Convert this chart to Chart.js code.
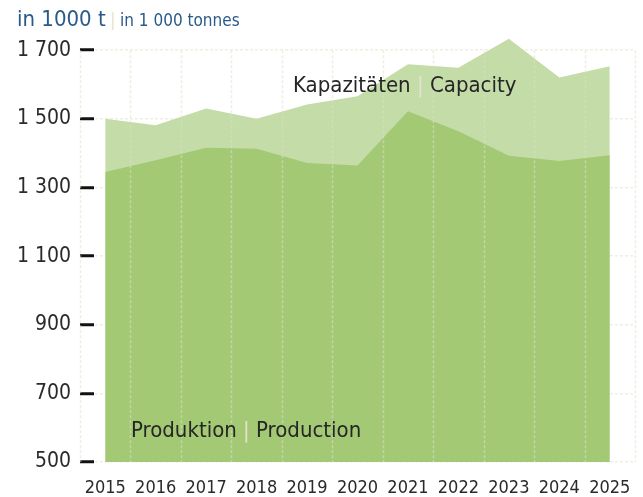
<!DOCTYPE html>
<html>
<head>
<meta charset="utf-8">
<script src="https://cdn.jsdelivr.net/npm/chart.js@4/dist/chart.umd.min.js"></script>
<style>
  html, body { margin: 0; padding: 0; background: #fff; }
  #wrap { position: relative; width: 643px; height: 497px; overflow: hidden;
          font-family: "DejaVu Sans Condensed", sans-serif; }
  canvas { position: absolute; left: 0; top: 0; }
  .sep { color: #e6e2cf; }
  #title { position: absolute; left: 17px; top: 6px; color: #2a5a8a; white-space: nowrap; }
  #title .big { font-size: 22px; }
  #title .small { font-size: 17px; }
  .note { position: absolute; font-size: 22px; color: #262626; white-space: nowrap; }
  #capNote { left: 293px; top: 72px; }
  #prodNote { left: 131px; top: 417px; }
</style>
</head>
<body>
<div id="wrap">
  <canvas id="chart" width="643" height="497"></canvas>
  <div id="title"><span class="big">in 1000 t</span> <span class="sep small">|</span> <span class="small">in 1 000 tonnes</span></div>
  <div class="note" id="capNote">Kapazitäten <span class="sep">|</span> Capacity</div>
  <div class="note" id="prodNote">Produktion <span class="sep">|</span> Production</div>
</div>
<script>
// ---------- DATA ----------
const years      = ["2015", "2016", "2017", "2018", "2019", "2020", "2021", "2022", "2023", "2024", "2025"];
const capacity   = [1500, 1481, 1530, 1500, 1542, 1566, 1659, 1649, 1733, 1620, 1653];
const production = [1345, 1379, 1416, 1413, 1371, 1364, 1522, 1464, 1392, 1377, 1394];
const yTicks     = [500, 700, 900, 1100, 1300, 1500, 1700];

const FONT = "'DejaVu Sans Condensed', sans-serif";
const GRID = "rgba(222, 226, 200, 0.55)";

function fmt(v) {
  const s = String(v);
  return s.length > 3 ? s.slice(0, -3) + " " + s.slice(-3) : s;
}

// vertical dashed lines between the categories, from the top tick down
const xGrid = {
  id: "xGrid",
  afterDatasetsDraw(chart) {
    const { ctx, scales: { x, y } } = chart;
    const top = y.getPixelForValue(yTicks[yTicks.length - 1]);
    const bottom = y.getPixelForValue(yTicks[0]);
    ctx.save();
    ctx.strokeStyle = GRID;
    ctx.lineWidth = 1.5;
    ctx.setLineDash([3, 2]);
    for (let i = 0; i <= years.length; i++) {
      const px = Math.round(x.getPixelForValue(i - 0.5)) + 0.5;
      ctx.beginPath();
      ctx.moveTo(px, top);
      ctx.lineTo(px, bottom);
      ctx.stroke();
    }
    ctx.restore();
  }
};

new Chart(document.getElementById("chart").getContext("2d"), {
  type: "line",
  data: {
    labels: years,
    datasets: [
      { label: "Produktion | Production", data: production, fill: "start",
        backgroundColor: "#a3c975", borderWidth: 0, pointRadius: 0, tension: 0 },
      { label: "Kapazitäten | Capacity", data: capacity, fill: "start",
        backgroundColor: "#c4dca7", borderWidth: 0, pointRadius: 0, tension: 0 }
    ]
  },
  options: {
    responsive: false,
    animation: false,
    devicePixelRatio: 1,
    layout: { padding: { top: 33, right: 8, left: 0, bottom: 0 } },
    plugins: { legend: { display: false }, tooltip: { enabled: false } },
    scales: {
      x: {
        offset: true,
        grid: { display: false, drawTicks: false },
        border: { display: false },
        ticks: { color: "#2a2a2a", padding: 16, maxRotation: 0, autoSkip: false,
                 font: { family: FONT, size: 18 } },
        afterFit(s) { s.height = 35; s.paddingLeft = 0; s.paddingRight = 0; }
      },
      y: {
        min: 500,
        max: 1750,
        z: 1,
        afterBuildTicks(s) { s.ticks = yTicks.map(v => ({ value: v })); },
        afterFit(s) { s.width = 80; s.paddingTop = 0; s.paddingBottom = 0; },
        grid: { color: GRID, lineWidth: 1.5, drawTicks: true, tickLength: -14,
                tickColor: "#111", tickWidth: 3, tickBorderDash: [] },
        border: { display: false, dash: [3, 2] },
        ticks: { color: "#2a2a2a", padding: 23, font: { family: FONT, size: 21 },
                 callback: v => fmt(v) }
      }
    }
  },
  plugins: [xGrid]
});
</script>
</body>
</html>
